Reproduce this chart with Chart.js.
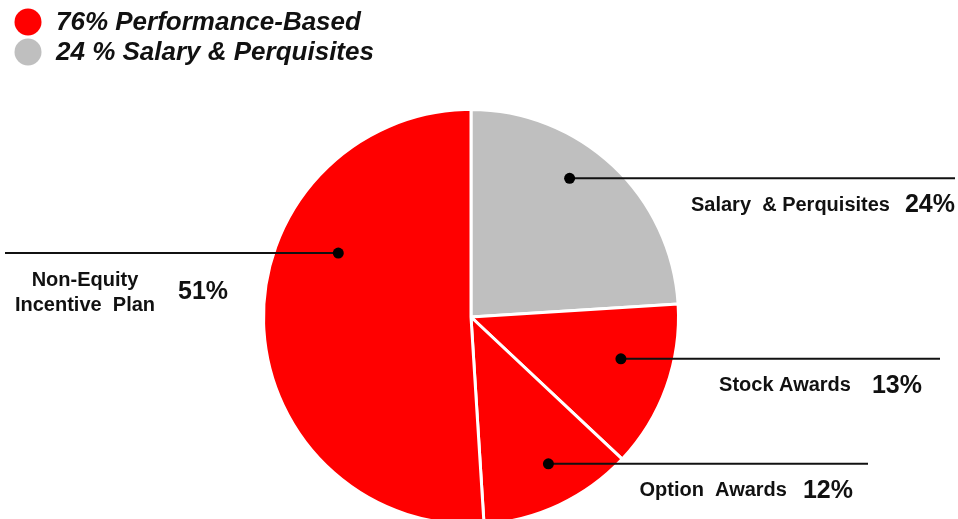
<!DOCTYPE html>
<html>
<head>
<meta charset="utf-8">
<script src="https://cdn.jsdelivr.net/npm/chart.js@4"></script>
<style>
  html, body { margin: 0; padding: 0; background: #fff; overflow: hidden; }
  #wrap { width: 958px; height: 540px; position: relative; }
</style>
</head>
<body>
<div id="wrap"><canvas id="myChart"></canvas></div>
<script>
const ctx = document.getElementById('myChart').getContext('2d');

const categories = ['Salary & Perquisites', 'Stock Awards', 'Option Awards', 'Non-Equity Incentive Plan'];
const labelLines = [['Salary  & Perquisites'], ['Stock Awards'], ['Option  Awards'], ['Non-Equity', 'Incentive  Plan']];
const values = [24, 13, 12, 51];
const colors = ['#BFBFBF', '#FF0000', '#FF0000', '#FF0000'];

const legendLabels = ['76% Performance-Based', '24 % Salary & Perquisites'];
const legendColors = ['#FF0000', '#BFBFBF'];

// where the leader dot sits inside each slice (fraction of slice angle, fraction of radius)
const dotSpots = [[0.41, 0.82], [0.41, 0.75], [0.44, 0.80], [0.65, 0.71]];

const FONT = '"Liberation Sans", Arial, sans-serif';

const calloutPlugin = {
  id: 'callouts',
  afterDraw(chart) {
    const c = chart.ctx;
    const arcs = chart.getDatasetMeta(0).data;
    c.save();

    // legend
    legendLabels.forEach((txt, i) => {
      const y = 22 + i * 30;
      c.fillStyle = legendColors[i];
      c.beginPath();
      c.arc(28, y, 13.5, 0, Math.PI * 2);
      c.fill();
      c.fillStyle = '#111';
      c.font = 'italic bold 26px ' + FONT;
      c.textBaseline = 'middle';
      c.textAlign = 'left';
      c.fillText(txt, 56, y + 1);
    });

    arcs.forEach((arc, i) => {
      const p = arc.getProps(['x', 'y', 'startAngle', 'endAngle', 'outerRadius'], true);
      const ang = p.startAngle + (p.endAngle - p.startAngle) * dotSpots[i][0];
      const r = p.outerRadius * dotSpots[i][1];
      const dx = p.x + Math.cos(ang) * r;
      const dy = p.y + Math.sin(ang) * r;
      const left = dx < p.x;
      const lineEnd = left ? 5 : [955, 940, 868][i];

      c.strokeStyle = '#111';
      c.lineWidth = 2;
      c.beginPath();
      c.moveTo(dx, dy);
      c.lineTo(lineEnd, dy);
      c.stroke();
      c.fillStyle = '#000';
      c.beginPath();
      c.arc(dx, dy, 5.5, 0, Math.PI * 2);
      c.fill();

      c.textBaseline = 'middle';
      c.fillStyle = '#111';
      const pct = values[i] + '%';
      if (left) {
        c.font = 'bold 20px ' + FONT;
        c.textAlign = 'center';
        labelLines[i].forEach((ln, k) => c.fillText(ln, 85, dy + 27 + k * 25));
        c.font = 'bold 25px ' + FONT;
        c.textAlign = 'left';
        c.fillText(pct, 178, dy + 39);
      } else {
        c.font = 'bold 25px ' + FONT;
        c.textAlign = 'right';
        const pw = c.measureText(pct).width;
        const pRight = lineEnd - [0, 18, 15][i];
        c.fillText(pct, pRight, dy + 27);
        c.font = 'bold 20px ' + FONT;
        c.fillText(labelLines[i][0], pRight - pw - [15, 21, 16][i], dy + 27);
      }
    });
    c.restore();
  }
};

new Chart(ctx, {
  type: 'pie',
  data: {
    labels: categories,
    datasets: [{
      data: values,
      backgroundColor: colors,
      borderColor: '#ffffff',
      borderWidth: 3,
    }],
  },
  options: {
    responsive: true,
    maintainAspectRatio: false,
    animation: false,
    layout: { padding: { top: 108, bottom: 14, left: 262, right: 278 } },
    plugins: {
      legend: { display: false },
      tooltip: { enabled: false },
    },
  },
  plugins: [calloutPlugin],
});
</script>
</body>
</html>
